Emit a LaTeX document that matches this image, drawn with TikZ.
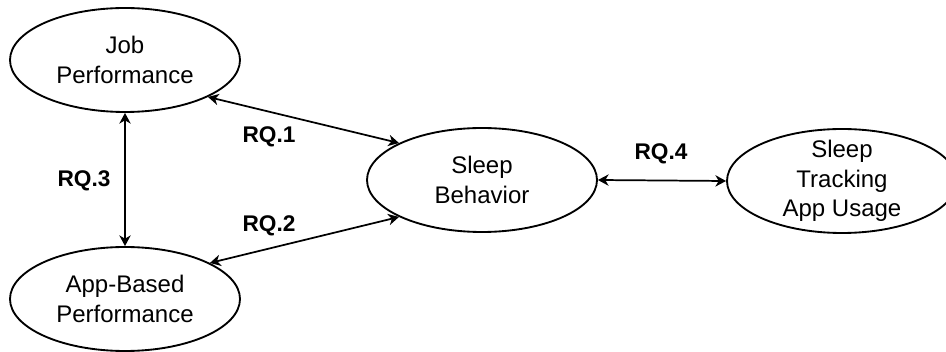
\documentclass[tikz,border=0pt]{standalone}
\usepackage{fontspec}
\setmainfont{Liberation Sans}
\usetikzlibrary{shapes.geometric, arrows.meta, positioning}
\tikzstyle{bubble} = [ellipse, draw = black, line width=1.4pt, minimum width=172.5pt, minimum height=78pt, inner xsep=0pt, inner ysep=-8pt, align=center, font=\fontsize{18pt}{22pt}\selectfont]
\tikzstyle{rq} = [font=\fontsize{17pt}{20pt}\selectfont\bfseries]
\tikzstyle{twoway} = [line width=1.3pt, <->, >={Stealth[length=8pt, width=8.5pt, inset=2.5pt]}]

\begin{document}
\begin{tikzpicture}[x=0.75pt, y=-0.75pt]
		\useasboundingbox (0,0) rectangle (946,352);
		
		\node (job) [bubble] at (125,60) {Job\\Performance};
		
		\node (app) [bubble] at (125,299) {App-Based\\Performance};
		
		\node (sleep) [bubble] at (482,180) {Sleep\\Behavior};
		
		\node (track) [bubble] at (842,181) {Sleep\\Tracking\\App Usage};
		
		\draw [twoway] (job.-24) -- (sleep.156);
		
		\draw [twoway] (sleep.204) -- (app.23);
		
		\draw [twoway] (job.south) -- (app.north);
		
		\draw [twoway] (sleep.east) -- (track.west);
		
		
		\node (rq1) [rq] at (269,137) {RQ.1};
		
		\node (rq2) [rq] at (269,226) {RQ.2};
		
		\node (rq3) [rq] at (84,181) {RQ.3};
		
		\node (rq4) [rq] at (661,154) {RQ.4};
		
		\end{tikzpicture}
\end{document}
